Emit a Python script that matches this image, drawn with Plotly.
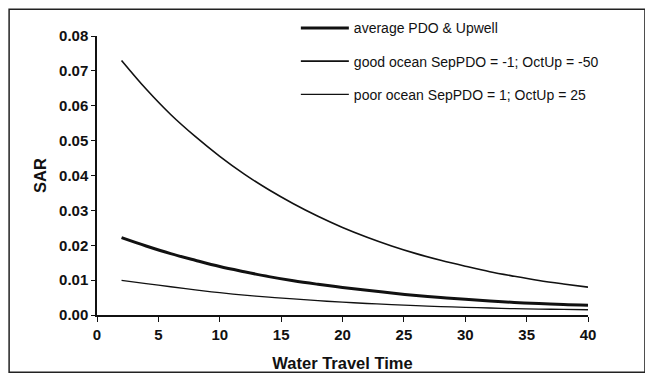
import plotly.graph_objects as go

x_vals = [2, 4, 6, 8, 10, 12, 14, 16, 18, 20, 22, 24, 26, 28, 30, 32, 34, 36, 38, 40]
avg_sar = [0.0222, 0.0198, 0.0176, 0.0157, 0.0139, 0.0124, 0.0110, 0.0098, 0.0088, 0.0079,
           0.0071, 0.0063, 0.0056, 0.0050, 0.0045, 0.0040, 0.0036, 0.0033, 0.0030, 0.0028]
good_sar = [0.0730, 0.0648, 0.0575, 0.0512, 0.0455, 0.0404, 0.0359, 0.0319, 0.0283, 0.0251,
            0.0223, 0.0198, 0.0176, 0.0157, 0.0140, 0.0124, 0.0111, 0.0099, 0.0089, 0.0080]
poor_sar = [0.0099, 0.0090, 0.0081, 0.0072, 0.0064, 0.0057, 0.0051, 0.0046, 0.0041, 0.0037,
            0.0033, 0.0030, 0.0027, 0.0024, 0.0022, 0.0020, 0.0018, 0.0017, 0.0016, 0.0015]

names = ["average PDO & Upwell",
         "good ocean SepPDO = -1; OctUp = -50",
         "poor ocean SepPDO = 1; OctUp = 25"]
x_ticks = [0, 5, 10, 15, 20, 25, 30, 35, 40]
y_ticks = [0.00, 0.01, 0.02, 0.03, 0.04, 0.05, 0.06, 0.07, 0.08]

fig = go.Figure()
for i, (ys, w) in enumerate([(avg_sar, 3), (good_sar, 1.6), (poor_sar, 1.3)]):
    fig.add_trace(go.Scatter(x=x_vals, y=ys, mode="lines", name=names[i],
                             legendgroup=f"g{i}",
                             line=dict(color="#111111", width=w, shape="spline")))

font_axis = dict(family="Liberation Sans", size=16.5, color="#111111")
tick_font = dict(family="Liberation Sans", size=15, color="#111111", weight="bold")
fig.update_layout(
    width=645, height=375,
    margin=dict(l=97, r=57, t=33, b=60),
    paper_bgcolor="white", plot_bgcolor="white",
    showlegend=True,
    legend=dict(x=0.405, y=1.085, xanchor="left", yanchor="top",
                bgcolor="rgba(0,0,0,0)", tracegroupgap=12, itemwidth=48,
                font=dict(family="Liberation Sans", size=14, color="#111111")),
    xaxis=dict(range=[0, 40], tickvals=x_ticks, ticktext=[str(v) for v in x_ticks],
               automargin=False,
               showgrid=False, zeroline=False, showline=True, linecolor="#111111", linewidth=1.5,
               ticks="outside", ticklen=5, tickcolor="#111111", tickfont=tick_font,
               title=dict(text="<b>Water Travel Time</b>", font=font_axis, standoff=16)),
    yaxis=dict(range=[0, 0.08], tickvals=y_ticks, ticktext=[f"{v:.2f}" for v in y_ticks],
               automargin=False,
               showgrid=False, zeroline=False, showline=True, linecolor="#111111", linewidth=1.5,
               ticks="outside", ticklen=4, tickcolor="#111111", tickfont=tick_font,
               title=dict(text="<b>SAR</b>", font=font_axis, standoff=8)),
    shapes=[dict(type="rect", xref="paper", yref="paper",
                 x0=-0.179, x1=1.116, y0=-0.205, y1=1.096,
                 line=dict(color="#222222", width=1.5))],
)

fig.write_html("out.html")
